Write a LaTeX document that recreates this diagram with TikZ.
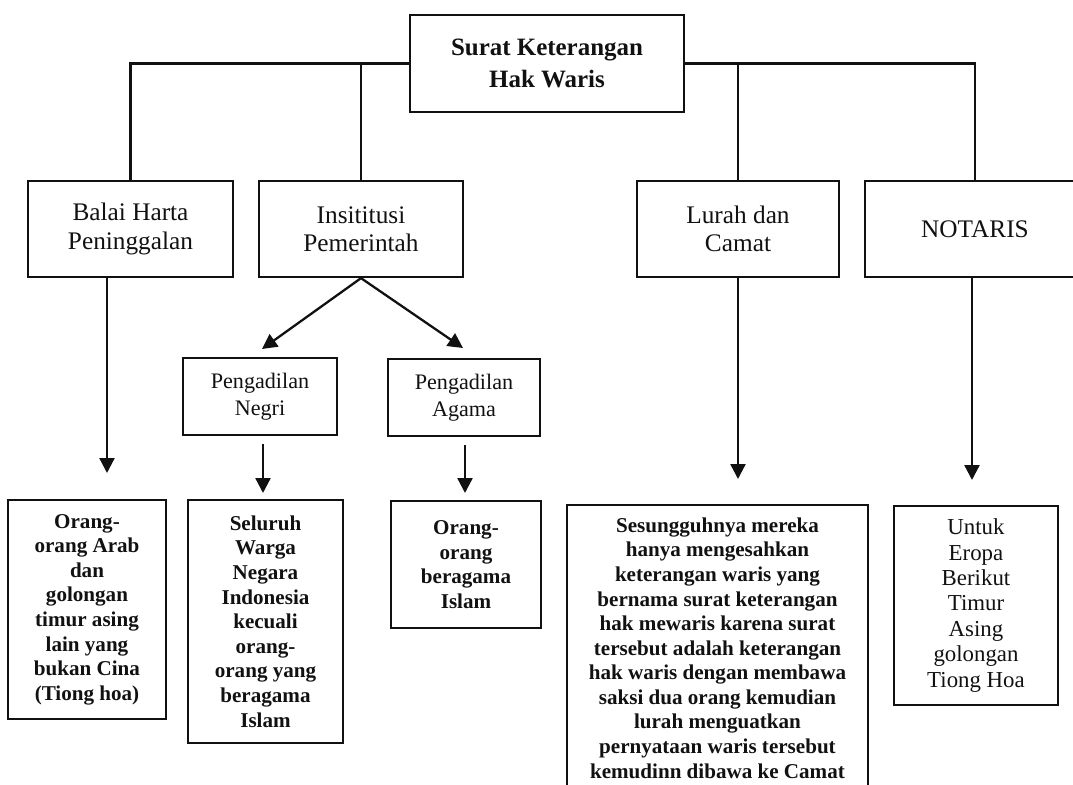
\documentclass[tikz,border=0pt]{standalone}
\usepackage{fontspec}
\setmainfont{Liberation Serif}
\usepackage{xcolor}
\definecolor{warisInk}{HTML}{111111}
\usetikzlibrary{arrows.meta,positioning}
\tikzset{
    box/.style={
        draw=warisInk,
        rectangle,
        align=center,
        line width=1.3pt,
        inner sep=2pt,
        text=warisInk
    },
    headbox/.style={
        box,
        minimum width=5.48cm,
        minimum height=1.94cm,
        font=\fontsize{14.2}{18}\selectfont\bfseries
    },
    levelbox/.style={
        box,
        minimum height=1.92cm,
        font=\fontsize{14.4}{16}\selectfont
    },
    courtbox/.style={
        box,
        minimum height=1.54cm,
        font=\fontsize{12.6}{15.4}\selectfont
    },
    groupbox/.style={
        box,
        font=\fontsize{12}{14}\selectfont\bfseries
    },
    link/.style={
        draw=warisInk,
        line width=1.3pt
    },
    arrow/.style={
        link,
        -{Triangle[length=8.5pt,width=8.5pt]}
    }
}

\begin{document}
\begin{tikzpicture}[x=0.02cm, y=-0.02cm]
    \useasboundingbox (0,0) rectangle (1073,785);

    % Top box
    \node[headbox] (surat) at (547,63.5) {Surat Keterangan\\Hak Waris};

    % Issuing bodies
    \node[levelbox, minimum width=4.10cm] (balai) at (130.5,229) {Balai Harta\\Peninggalan};
    \node[levelbox, minimum width=4.08cm] (insti) at (361,229) {Insititusi\\Pemerintah};
    \node[levelbox, minimum width=4.04cm] (lurah) at (738,229) {Lurah dan\\Camat};
    \node[levelbox, minimum width=4.40cm] (notaris) at (975,229) {NOTARIS};

    % Courts
    \node[courtbox, minimum width=3.08cm] (negri) at (260,396.5) {Pengadilan\\Negri};
    \node[courtbox, minimum width=3.04cm] (agama) at (464,397.5) {Pengadilan\\Agama};

    % Groups
    \node[groupbox, minimum width=3.16cm, minimum height=4.38cm] (arab) at (87,609.5)
        {Orang-\\orang Arab\\dan\\golongan\\timur asing\\lain yang\\bukan Cina\\(Tiong hoa)};
    \node[groupbox, minimum width=3.10cm, minimum height=4.86cm] (seluruh) at (265.5,621.5)
        {Seluruh\\Warga\\Negara\\Indonesia\\kecuali\\orang-\\orang yang\\beragama\\Islam};
    \node[groupbox, minimum width=3.00cm, minimum height=2.54cm] (beragama) at (466,564.5)
        {Orang-\\orang\\beragama\\Islam};
    \node[groupbox, minimum width=6.02cm, minimum height=5.72cm] (sesung) at (717.5,648)
        {Sesungguhnya mereka\\hanya mengesahkan\\keterangan waris yang\\bernama surat keterangan\\hak mewaris karena surat\\tersebut adalah keterangan\\hak waris dengan membawa\\saksi dua orang kemudian\\lurah menguatkan\\pernyataan waris tersebut\\kemudinn dibawa ke Camat};
    \node[groupbox, minimum width=3.28cm, minimum height=3.98cm,
          font=\fontsize{13}{14.5}\selectfont] (untuk) at (976,605.5)
        {Untuk\\Eropa\\Berikut\\Timur\\Asing\\golongan\\Tiong Hoa};

    % Arrow tips
    \coordinate (tipArab) at (107,473);
    \coordinate (tipNegri) at (262,349);
    \coordinate (tipAgama) at (463,348);
    \coordinate (tipSeluruh) at (263,493);
    \coordinate (tipBeragama) at (465,493);
    \coordinate (tipSesung) at (738,479);
    \coordinate (tipUntuk) at (972,480);

    % Branches from the top box
    \draw[link] (balai.north) |- (surat.west);
    \draw[link] (insti.north) -- (insti.north |- surat.west);
    \draw[link] (surat.east) -| (notaris.north);
    \draw[link] (lurah.north) -- (lurah.north |- surat.east);

    % Arrows down
    \draw[arrow] (balai.south -| tipArab) -- (tipArab);
    \draw[arrow] (insti.south) -- (tipNegri);
    \draw[arrow] (insti.south) -- (tipAgama);
    \draw[arrow, shorten <=4.5pt] (negri.south -| tipSeluruh) -- (tipSeluruh);
    \draw[arrow, shorten <=4.5pt] (agama.south -| tipBeragama) -- (tipBeragama);
    \draw[arrow] (lurah.south -| tipSesung) -- (tipSesung);
    \draw[arrow] (notaris.south -| tipUntuk) -- (tipUntuk);
\end{tikzpicture}
\end{document}
